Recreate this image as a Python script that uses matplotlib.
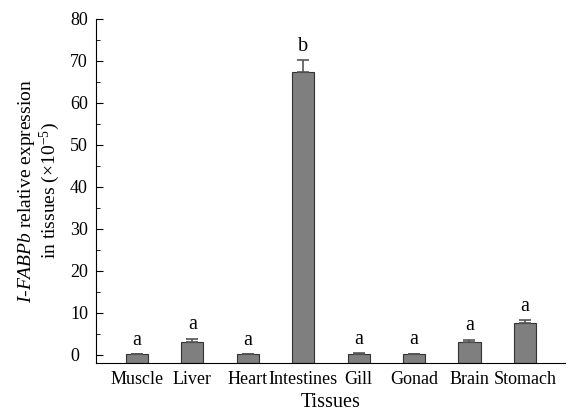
import numpy as np
import matplotlib
matplotlib.use("Agg")
import matplotlib.pyplot as plt
from matplotlib.ticker import MultipleLocator

plt.rcParams['font.family'] = ['Liberation Serif', 'DejaVu Serif']
plt.rcParams['mathtext.fontset'] = 'custom'
plt.rcParams['mathtext.rm'] = 'Liberation Serif'
plt.rcParams['mathtext.it'] = 'Liberation Serif:italic'

tissues = ['Muscle', 'Liver', 'Heart', 'Intestines', 'Gill', 'Gonad', 'Brain', 'Stomach']
expr = [0.05, 3.1, 0.05, 67.4, 0.25, 0.15, 3.1, 7.6]
err = [0.0, 0.7, 0.0, 2.8, 0.1, 0.1, 0.5, 0.6]
letters = ['a', 'a', 'a', 'b', 'a', 'a', 'a', 'a']

ymin = -2
fig = plt.figure(figsize=(5.7, 4.13), dpi=100)
ax = fig.add_axes([0.168, 0.121, 0.823, 0.833])

x = np.arange(len(tissues))
heights = np.array(expr) - ymin
ax.bar(x, heights, bottom=ymin, width=0.4, color='#7f7f7f', edgecolor='#333333', linewidth=0.8)
ax.errorbar(x, expr, yerr=[np.zeros(len(err)), err], fmt='none', ecolor='#555555',
            elinewidth=1.2, capsize=4, capthick=1.2)

for xi, v, e, l in zip(x, expr, err, letters):
    ax.text(xi, v + e + 1.0, l, ha='center', va='bottom', fontsize=14.5)

ax.set_xlim(-0.74, 7.72)
ax.set_ylim(ymin, 80)
ax.set_xticks(x)
ax.set_xticklabels(tissues, fontsize=13)
ax.tick_params(axis='x', length=0, pad=6)
ax.yaxis.set_major_locator(MultipleLocator(10))
ax.yaxis.set_minor_locator(MultipleLocator(5))
ax.tick_params(axis='y', which='both', direction='in', labelsize=13)
ax.tick_params(axis='y', which='major', length=5, pad=18.5)
ax.tick_params(axis='y', which='minor', length=3)
for lab in ax.get_yticklabels():
    lab.set_horizontalalignment('left')
for s in ['top', 'right']:
    ax.spines[s].set_visible(False)
ax.spines['left'].set_bounds(ymin, 80)

ax.set_xlabel('Tissues', fontsize=14.5, labelpad=3)
ax.set_ylabel('$\\it{I}$-$\\it{FABPb}$ relative expression\nin tissues (×10$^{-5}$)',
              fontsize=14, linespacing=1.05)
ax.yaxis.set_label_coords(-0.071, 0.5)

fig.savefig('out.png', dpi=100)
